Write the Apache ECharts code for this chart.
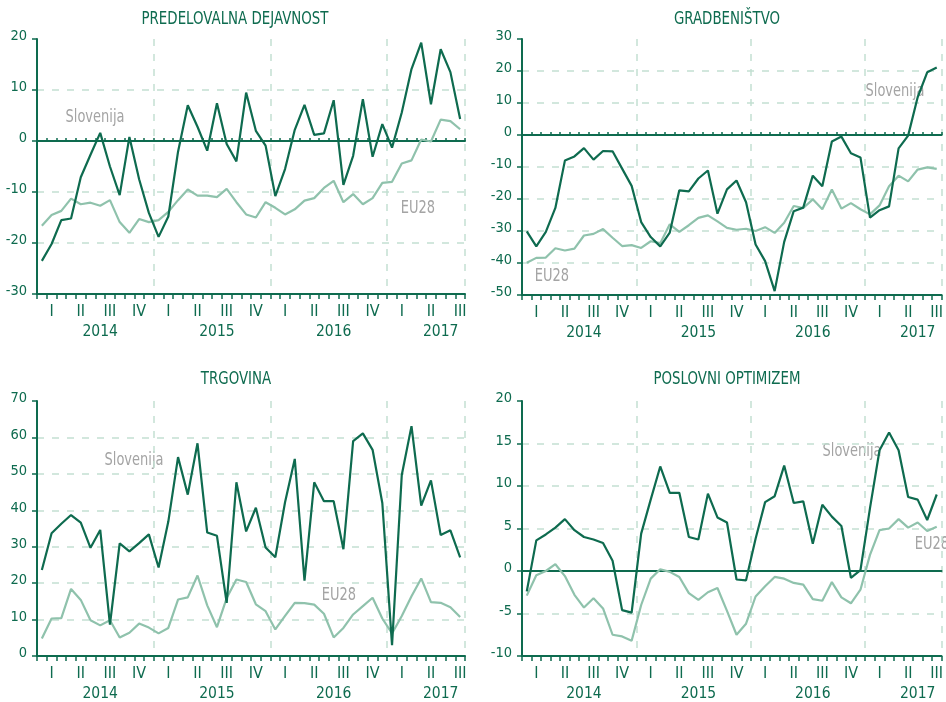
<!DOCTYPE html>
<html lang="sl">
<head>
<meta charset="UTF-8">
<title>Kazalniki zaupanja</title>
<script src="https://cdn.jsdelivr.net/npm/echarts@6/dist/echarts.min.js"></script>
<style>
  html, body { margin: 0; padding: 0; background: #fff; }
  #main { width: 946px; height: 702px; }
</style>
</head>
<body>
<div id="main"></div>
<script>
var years = ['2014', '2015', '2016', '2017'];
var quarters = ['I', 'II', 'III', 'IV'];
var monthCount = [12, 12, 12, 8]; // jan 2014 - avg 2017
var months = [];
for (var y = 0; y < years.length; y++) {
  for (var m = 1; m <= monthCount[y]; m++) {
    months.push(years[y] + '-' + (m < 10 ? '0' + m : m));
  }
}

// PREDELOVALNA DEJAVNOST
var predSlo = [-23.5, -20.2, -15.5, -15.2, -7.1, -2.7, 1.6, -5.0, -10.6, 0.8, -7.5, -14.1,
  -18.8, -14.8, -2.1, 7.0, 2.8, -1.9, 7.4, -0.6, -4.0, 9.5, 2.0, -0.9,
  -10.8, -5.5, 2.2, 7.1, 1.2, 1.5, 8.0, -8.6, -2.9, 8.2, -3.1, 3.3,
  -1.3, 5.6, 14.1, 19.3, 7.2, 18.0, 13.5, 4.3];
var predEu = [-16.6, -14.5, -13.7, -11.3, -12.4, -12.1, -12.7, -11.6, -15.9, -18.0, -15.3, -15.9,
  -15.5, -13.9, -11.6, -9.5, -10.7, -10.7, -11.0, -9.4, -12.0, -14.4, -15.0, -12.0,
  -13.1, -14.4, -13.4, -11.7, -11.2, -9.2, -7.8, -12.0, -10.4, -12.4, -11.2, -8.2,
  -8.0, -4.4, -3.8, 0.3, -0.1, 4.2, 3.9, 2.3];

// GRADBENIŠTVO
var gradSlo = [-30.1, -34.8, -30.3, -22.8, -8.0, -6.7, -4.1, -7.7, -5.0, -5.1, -10.5, -15.9,
  -27.2, -31.9, -34.8, -30.5, -17.3, -17.6, -13.6, -11.1, -24.6, -17.0, -14.2, -21.0,
  -34.2, -39.4, -48.8, -33.4, -23.8, -22.7, -12.7, -16.0, -2.0, -0.5, -5.7, -7.0,
  -25.8, -23.5, -22.3, -4.2, -0.2, 11.8, 19.6, 21.1];
var gradEu = [-39.9, -38.4, -38.3, -35.4, -36.1, -35.5, -31.4, -30.9, -29.4, -32.1, -34.7, -34.4,
  -35.3, -33.2, -33.8, -27.9, -30.3, -28.2, -25.9, -25.1, -27.0, -29.0, -29.6, -29.3,
  -30.0, -28.8, -30.6, -27.4, -22.2, -22.8, -20.1, -23.2, -17.0, -23.0, -21.3, -23.2,
  -24.8, -22.0, -16.0, -12.7, -14.5, -10.8, -10.1, -10.6];

// TRGOVINA
var trgSlo = [23.6, 33.7, 36.3, 38.7, 36.6, 29.7, 34.6, 8.6, 30.9, 28.7, 31.0, 33.4,
  24.3, 36.9, 54.6, 44.3, 58.4, 33.9, 33.0, 14.6, 47.7, 34.2, 40.7, 29.8,
  27.1, 42.2, 54.1, 20.7, 47.7, 42.5, 42.5, 29.3, 59.0, 61.1, 56.6, 42.0,
  3.0, 49.7, 63.1, 41.3, 48.2, 33.2, 34.5, 27.1];
var trgEu = [4.8, 10.3, 10.4, 18.4, 15.4, 9.8, 8.4, 9.8, 5.1, 6.4, 8.9, 7.8,
  6.2, 7.7, 15.5, 16.1, 22.1, 13.9, 7.9, 15.9, 21.0, 20.3, 14.2, 12.3,
  7.3, 11.0, 14.6, 14.5, 14.1, 11.6, 5.1, 7.7, 11.4, 13.7, 16.0, 10.3,
  6.2, 11.0, 16.4, 21.3, 14.8, 14.6, 13.4, 10.7];

// POSLOVNI OPTIMIZEM
var poslSlo = [-2.4, 3.6, 4.3, 5.1, 6.1, 4.8, 4.0, 3.7, 3.3, 1.2, -4.6, -4.9,
  4.4, 8.4, 12.3, 9.2, 9.2, 4.0, 3.7, 9.1, 6.3, 5.7, -1.0, -1.1,
  3.8, 8.1, 8.8, 12.4, 8.0, 8.2, 3.2, 7.8, 6.4, 5.3, -0.8, 0.1,
  7.4, 14.2, 16.3, 14.2, 8.7, 8.4, 6.0, 9.0];
var poslEu = [-2.9, -0.5, 0.0, 0.8, -0.6, -2.8, -4.3, -3.2, -4.4, -7.5, -7.7, -8.2,
  -4.0, -0.9, 0.2, -0.1, -0.7, -2.6, -3.4, -2.5, -2.0, -4.7, -7.5, -6.2,
  -3.0, -1.8, -0.7, -0.9, -1.4, -1.6, -3.3, -3.5, -1.3, -3.1, -3.8, -2.2,
  1.9, 4.8, 5.0, 6.1, 5.1, 5.7, 4.7, 5.2];

var DARK = '#0e6b4f';
var LIGHT = '#8fc2ac';
var GRIDC = '#c3dfd2';
var GREY = '#a4a4a4';
var NARROW = "'Liberation Sans Narrow', 'DejaVu Sans Condensed', sans-serif";

var panels = [
  { title: 'PREDELOVALNA DEJAVNOST', tx: 235, ty: 19, left: 37, top: 39, height: 255,
    min: -30, max: 20, step: 10, slo: predSlo, eu: predEu, zeroTicks: true,
    sloPos: [95, 118], euPos: [418, 209] },
  { title: 'GRADBENIŠTVO', tx: 727, ty: 19, left: 522, top: 39, height: 256,
    min: -50, max: 30, step: 10, slo: gradSlo, eu: gradEu, zeroTicks: true,
    sloPos: [895, 92], euPos: [552, 277] },
  { title: 'TRGOVINA', tx: 236, ty: 379, left: 37, top: 401, height: 257,
    min: 0, max: 70, step: 10, slo: trgSlo, eu: trgEu, zeroTicks: false,
    sloPos: [134, 461], euPos: [339, 596] },
  { title: 'POSLOVNI OPTIMIZEM', tx: 727, ty: 379, left: 522, top: 401, height: 257,
    min: -10, max: 20, step: 5, slo: poslSlo, eu: poslEu, zeroTicks: false,
    sloPos: [852, 452], euPos: [932, 545] }
];

var yearIdx = { 6: 0, 18: 1, 30: 2, 41: 3 };

var grids = [], xAxes = [], yAxes = [], series = [], texts = [];

function label(txt, x, y, color, size, sx) {
  return {
    type: 'text', x: x, y: y, scaleX: sx, originX: 0, originY: 0,
    style: { text: txt, fill: color, font: size + 'px ' + NARROW, textAlign: 'center', textVerticalAlign: 'middle' }
  };
}

panels.forEach(function (p, i) {
  grids.push({ left: p.left, top: p.top, width: 428, height: p.height });

  // mesečne oznake + četrtletja
  xAxes.push({
    type: 'category', gridIndex: i, data: months, position: 'bottom',
    axisLine: { onZero: false, lineStyle: { color: DARK, width: 2 } },
    axisTick: { show: true, interval: 0, length: 5, lineStyle: { color: DARK, width: 1.5 } },
    axisLabel: {
      interval: 0, margin: 10, color: DARK, fontSize: 16, fontFamily: NARROW,
      formatter: function (v, idx) {
        var mi = idx % 12;
        return (mi % 3 === 1) ? quarters[(mi - 1) / 3] : '';
      }
    },
    splitLine: {
      show: true,
      interval: function (idx) { return idx > 0 && idx % 12 === 0; },
      lineStyle: { color: GRIDC, type: [7, 8], width: 1.5 }
    }
  });
  // leta
  xAxes.push({
    type: 'category', gridIndex: i, data: months, position: 'bottom',
    axisLine: { show: false, onZero: false }, axisTick: { show: false },
    splitLine: { show: false },
    axisLabel: {
      interval: 0, margin: 30, color: DARK, fontSize: 15.5, fontFamily: NARROW,
      formatter: function (v, idx) {
        return yearIdx[idx] !== undefined ? years[yearIdx[idx]] : '';
      }
    }
  });
  // ničelna črta
  xAxes.push({
    type: 'category', gridIndex: i, data: months, position: 'bottom',
    axisLine: { show: p.min < 0, onZero: true, lineStyle: { color: DARK, width: 2 } },
    axisTick: { show: p.zeroTicks, interval: 0, length: 3, inside: true, lineStyle: { color: DARK, width: 1.5 } },
    axisLabel: { show: false }, splitLine: { show: false }
  });

  yAxes.push({
    type: 'value', gridIndex: i, min: p.min, max: p.max, interval: p.step,
    axisLine: { show: true, onZero: false, lineStyle: { color: DARK, width: 2 } },
    axisTick: { show: true, length: 5, lineStyle: { color: DARK, width: 1.5 } },
    axisLabel: { color: DARK, fontSize: 14.5, fontFamily: NARROW, margin: 10,
      verticalAlign: 'bottom', lineHeight: 5 },
    splitLine: {
      show: true, showMinLine: false, showMaxLine: false,
      lineStyle: { color: GRIDC, type: [7, 8], width: 1.5 }
    }
  });

  series.push({
    name: 'EU28', type: 'line', xAxisIndex: i * 3, yAxisIndex: i, data: p.eu,
    showSymbol: false, lineStyle: { color: LIGHT, width: 2.2 }, itemStyle: { color: LIGHT },
    silent: true, animation: false
  });
  series.push({
    name: 'Slovenija', type: 'line', xAxisIndex: i * 3, yAxisIndex: i, data: p.slo,
    showSymbol: false, lineStyle: { color: DARK, width: 2.2 }, itemStyle: { color: DARK },
    silent: true, animation: false
  });

  texts.push(label(p.title, p.tx, p.ty, DARK, 17.5, 0.85));
  texts.push(label('Slovenija', p.sloPos[0], p.sloPos[1], GREY, 17, 0.85));
  texts.push(label('EU28', p.euPos[0], p.euPos[1], GREY, 17, 0.85));
});

var chart = echarts.init(document.getElementById('main'));
chart.setOption({
  animation: false,
  grid: grids,
  xAxis: xAxes,
  yAxis: yAxes,
  series: series,
  graphic: texts
});
</script>
</body>
</html>
